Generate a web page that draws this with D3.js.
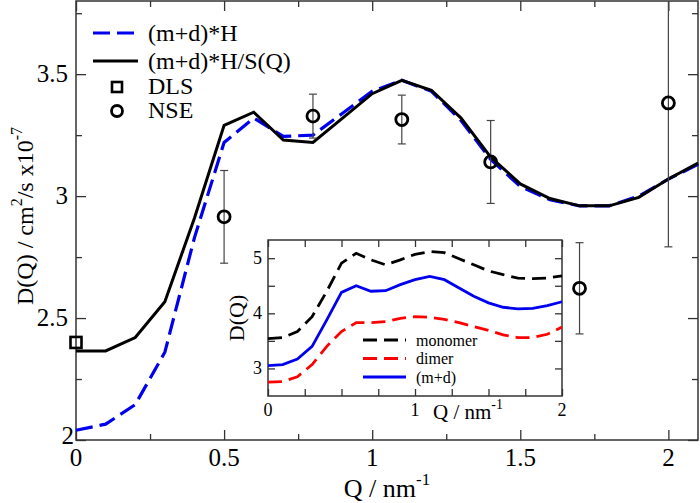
<!DOCTYPE html>
<html>
<head>
<meta charset="utf-8">
<script src="https://cdn.jsdelivr.net/npm/d3@7"></script>
<style>
  body { margin: 0; background: #fff; }
</style>
</head>
<body>
<script>
// main panel data
let qMain = [0, 0.1, 0.2, 0.3, 0.4, 0.5, 0.6, 0.7, 0.8, 0.9, 1.0, 1.1, 1.2, 1.3, 1.4, 1.5, 1.6, 1.7, 1.8, 1.9, 2.0, 2.1];
let mdH = [2.04, 2.065, 2.145, 2.36, 2.83, 3.22, 3.32, 3.245, 3.25, 3.34, 3.43, 3.475, 3.43, 3.31, 3.15, 3.04, 2.985, 2.96, 2.96, 3.0, 3.07, 3.13];
let mdHS = [2.365, 2.365, 2.42, 2.567, 2.91, 3.29, 3.344, 3.23, 3.22, 3.32, 3.42, 3.475, 3.434, 3.32, 3.16, 3.05, 2.99, 2.96, 2.96, 2.995, 3.07, 3.135];
let dlsQ = [0];
let dlsD = [2.40];
let nseQ = [0.5, 0.8, 1.1, 1.4, 1.7, 2.0];
let nseD = [2.915, 3.328, 3.314, 3.14, 2.622, 3.382];
let nseErr = [0.19, 0.09, 0.1, 0.17, 0.187, 0.59];

// inset data
let qInset = [0, 0.1, 0.2, 0.3, 0.4, 0.5, 0.6, 0.7, 0.8, 0.9, 1.0, 1.1, 1.2, 1.3, 1.4, 1.5, 1.6, 1.7, 1.8, 1.9, 2.0];
let monomer = [3.54, 3.56, 3.67, 3.94, 4.40, 4.91, 5.09, 4.97, 4.88, 4.97, 5.07, 5.12, 5.1, 4.99, 4.88, 4.77, 4.70, 4.64, 4.63, 4.64, 4.68];
let dimer = [2.75, 2.76, 2.85, 3.07, 3.40, 3.67, 3.83, 3.83, 3.85, 3.91, 3.94, 3.93, 3.89, 3.83, 3.76, 3.69, 3.61, 3.56, 3.56, 3.62, 3.75];
let mPlusD = [3.05, 3.07, 3.17, 3.40, 3.88, 4.38, 4.50, 4.40, 4.41, 4.52, 4.61, 4.67, 4.61, 4.46, 4.31, 4.19, 4.11, 4.08, 4.09, 4.14, 4.21];

let xTicks = [0, 0.5, 1, 1.5, 2];
let yTicks = [2, 2.5, 3, 3.5];
let insetXTicks = [0, 1, 2];
let insetYTicks = [3, 4, 5];

let W = 700, H = 503;
let serif = '"Liberation Serif", "Times New Roman", Tinos, "DejaVu Serif", serif';
let svg = d3.select('body').append('svg').attr('width', W).attr('height', H)
    .style('font-family', serif);

let x = d3.scaleLinear().domain([0, 2.1]).range([76, 698]);
let y = d3.scaleLinear().domain([2, 3.8]).range([440, 1]);

let axisColor = '#333';

//---------------------------------------------------------------------------------------------------//
// frame + ticks (inward, on all four sides)
function frame(g, xs, ys, xMajor, xMinor, yMajor, yMinor, bigLen, smallLen) {
    let [x0, x1] = xs.range();
    let [y0, y1] = ys.range();
    g.append('g').call(d3.axisBottom(xs).tickValues(xMinor).tickSize(-smallLen).tickFormat(''))
        .attr('transform', `translate(0,${y0})`);
    g.append('g').call(d3.axisBottom(xs).tickValues(xMajor).tickSize(-bigLen).tickFormat(''))
        .attr('transform', `translate(0,${y0})`);
    g.append('g').call(d3.axisTop(xs).tickValues(xMinor).tickSize(-smallLen).tickFormat(''))
        .attr('transform', `translate(0,${y1})`);
    g.append('g').call(d3.axisTop(xs).tickValues(xMajor).tickSize(-bigLen).tickFormat(''))
        .attr('transform', `translate(0,${y1})`);
    g.append('g').call(d3.axisLeft(ys).tickValues(yMinor).tickSize(-smallLen).tickFormat(''))
        .attr('transform', `translate(${x0},0)`);
    g.append('g').call(d3.axisLeft(ys).tickValues(yMajor).tickSize(-bigLen).tickFormat(''))
        .attr('transform', `translate(${x0},0)`);
    g.append('g').call(d3.axisRight(ys).tickValues(yMinor).tickSize(-smallLen).tickFormat(''))
        .attr('transform', `translate(${x1},0)`);
    g.append('g').call(d3.axisRight(ys).tickValues(yMajor).tickSize(-bigLen).tickFormat(''))
        .attr('transform', `translate(${x1},0)`);
    g.selectAll('.domain').remove();
    g.selectAll('.tick line').attr('stroke', axisColor).attr('stroke-width', 1.3);
    g.append('rect')
        .attr('x', x0).attr('y', y1)
        .attr('width', x1 - x0).attr('height', y0 - y1)
        .attr('fill', 'none').attr('stroke', axisColor).attr('stroke-width', 1.5);
}

let mainFrame = svg.append('g');
frame(mainFrame, x, y, xTicks, [0.25, 0.75, 1.25, 1.75], yTicks, [2.25, 2.75, 3.25, 3.75], 10, 6);

// tick labels
svg.append('g').selectAll('text').data(xTicks).enter().append('text')
    .attr('x', d => x(d)).attr('y', 466)
    .attr('text-anchor', 'middle').attr('font-size', 25)
    .text(d => d);
svg.append('g').selectAll('text').data(yTicks).enter().append('text')
    .attr('x', d => d === 2 ? 74 : 68).attr('y', d => y(d) + (d === 2 ? 4 : 8))
    .attr('text-anchor', 'end').attr('font-size', 25)
    .text(d => d);

// axis labels
let xl = svg.append('text').attr('x', 387).attr('y', 497).attr('text-anchor', 'middle').attr('font-size', 26);
xl.append('tspan').text('Q / nm');
xl.append('tspan').attr('dy', -12).attr('font-size', 17).text('-1');

let yl = svg.append('text').attr('transform', 'translate(33,216) rotate(-90)')
    .attr('text-anchor', 'middle').attr('font-size', 24);
yl.append('tspan').text('D(Q) / cm');
yl.append('tspan').attr('dy', -11).attr('font-size', 16).text('2');
yl.append('tspan').attr('dy', 11).text('/s x10');
yl.append('tspan').attr('dy', -11).attr('font-size', 16).text('-7');

//---------------------------------------------------------------------------------------------------//
// curves
let lineMain = d3.line().x((d, i) => x(qMain[i])).y(d => y(d));

svg.append('path').attr('d', lineMain(mdH))
    .attr('fill', 'none').attr('stroke', '#0000ee').attr('stroke-width', 3.2)
    .attr('stroke-dasharray', '17,7');
svg.append('path').attr('d', lineMain(mdHS))
    .attr('fill', 'none').attr('stroke', '#000').attr('stroke-width', 3);

// NSE error bars
let errG = svg.append('g').attr('stroke', '#444').attr('stroke-width', 1.2);
nseQ.forEach((q, i) => {
    let top = Math.min(nseD[i] + nseErr[i], 3.8);
    let bot = nseD[i] - nseErr[i];
    errG.append('line').attr('x1', x(q)).attr('x2', x(q)).attr('y1', y(top)).attr('y2', y(bot));
    if (top < 3.8) errG.append('line').attr('x1', x(q) - 4).attr('x2', x(q) + 4).attr('y1', y(top)).attr('y2', y(top));
    errG.append('line').attr('x1', x(q) - 4).attr('x2', x(q) + 4).attr('y1', y(bot)).attr('y2', y(bot));
});

svg.append('g').selectAll('circle').data(nseD).enter().append('circle')
    .attr('cx', (d, i) => x(nseQ[i])).attr('cy', d => y(d)).attr('r', 6)
    .attr('fill', 'none').attr('stroke', '#000').attr('stroke-width', 2.8);

svg.append('g').selectAll('rect').data(dlsD).enter().append('rect')
    .attr('x', (d, i) => x(dlsQ[i]) - 5.5).attr('y', d => y(d) - 5.5)
    .attr('width', 11).attr('height', 11)
    .attr('fill', 'none').attr('stroke', '#000').attr('stroke-width', 2.6);

//---------------------------------------------------------------------------------------------------//
// main legend
let leg = svg.append('g').attr('font-size', 24);
leg.append('line').attr('x1', 93).attr('x2', 138).attr('y1', 33).attr('y2', 33)
    .attr('stroke', '#0000ee').attr('stroke-width', 3.2).attr('stroke-dasharray', '17,7');
leg.append('text').attr('x', 148).attr('y', 41).text('(m+d)*H');
leg.append('line').attr('x1', 93).attr('x2', 138).attr('y1', 61).attr('y2', 61)
    .attr('stroke', '#000').attr('stroke-width', 3);
leg.append('text').attr('x', 148).attr('y', 69).text('(m+d)*H/S(Q)');
leg.append('rect').attr('x', 112).attr('y', 82).attr('width', 10).attr('height', 10)
    .attr('fill', 'none').attr('stroke', '#000').attr('stroke-width', 2.6);
leg.append('text').attr('x', 148).attr('y', 94).text('DLS');
leg.append('circle').attr('cx', 117).attr('cy', 111).attr('r', 5.5)
    .attr('fill', 'none').attr('stroke', '#000').attr('stroke-width', 2.8);
leg.append('text').attr('x', 148).attr('y', 118).text('NSE');

//---------------------------------------------------------------------------------------------------//
// inset
let xi = d3.scaleLinear().domain([0, 2]).range([268, 562]);
let yi = d3.scaleLinear().domain([2.5, 5.33]).range([396, 240]);

let inset = svg.append('g');
inset.append('rect').attr('x', 268).attr('y', 240).attr('width', 294).attr('height', 156).attr('fill', '#fff');
frame(inset, xi, yi, insetXTicks, [0.25, 0.5, 0.75, 1.25, 1.5, 1.75], insetYTicks, [3.5, 4.5], 7, 7);

inset.append('g').selectAll('text').data(insetXTicks).enter().append('text')
    .attr('x', d => xi(d)).attr('y', 416)
    .attr('text-anchor', 'middle').attr('font-size', 18)
    .text(d => d);
inset.append('g').selectAll('text').data(insetYTicks).enter().append('text')
    .attr('x', 262).attr('y', d => yi(d) + 6)
    .attr('text-anchor', 'end').attr('font-size', 18)
    .text(d => d);

let ixl = inset.append('text').attr('x', 433).attr('y', 419).attr('font-size', 21);
ixl.append('tspan').text('Q / nm');
ixl.append('tspan').attr('dy', -10).attr('font-size', 14).text('-1');
inset.append('text').attr('transform', 'translate(244,318) rotate(-90)')
    .attr('text-anchor', 'middle').attr('font-size', 22).text('D(Q)');

let lineInset = d3.line().x((d, i) => xi(qInset[i])).y(d => yi(d));
inset.append('path').attr('d', lineInset(monomer))
    .attr('fill', 'none').attr('stroke', '#000').attr('stroke-width', 2.8).attr('stroke-dasharray', '14,7');
inset.append('path').attr('d', lineInset(dimer))
    .attr('fill', 'none').attr('stroke', '#ff0000').attr('stroke-width', 2.8).attr('stroke-dasharray', '14,7');
inset.append('path').attr('d', lineInset(mPlusD))
    .attr('fill', 'none').attr('stroke', '#0000ee').attr('stroke-width', 2.8);

// inset legend
let ileg = inset.append('g').attr('font-size', 16);
ileg.append('line').attr('x1', 363).attr('x2', 406).attr('y1', 340).attr('y2', 340)
    .attr('stroke', '#000').attr('stroke-width', 2.8).attr('stroke-dasharray', '14,7');
ileg.append('text').attr('x', 416).attr('y', 345.5).text('monomer');
ileg.append('line').attr('x1', 363).attr('x2', 406).attr('y1', 358.5).attr('y2', 358.5)
    .attr('stroke', '#ff0000').attr('stroke-width', 2.8).attr('stroke-dasharray', '14,7');
ileg.append('text').attr('x', 416).attr('y', 364).text('dimer');
ileg.append('line').attr('x1', 363).attr('x2', 406).attr('y1', 377).attr('y2', 377)
    .attr('stroke', '#0000ee').attr('stroke-width', 2.8);
ileg.append('text').attr('x', 416).attr('y', 382.5).text('(m+d)');
</script>
</body>
</html>
